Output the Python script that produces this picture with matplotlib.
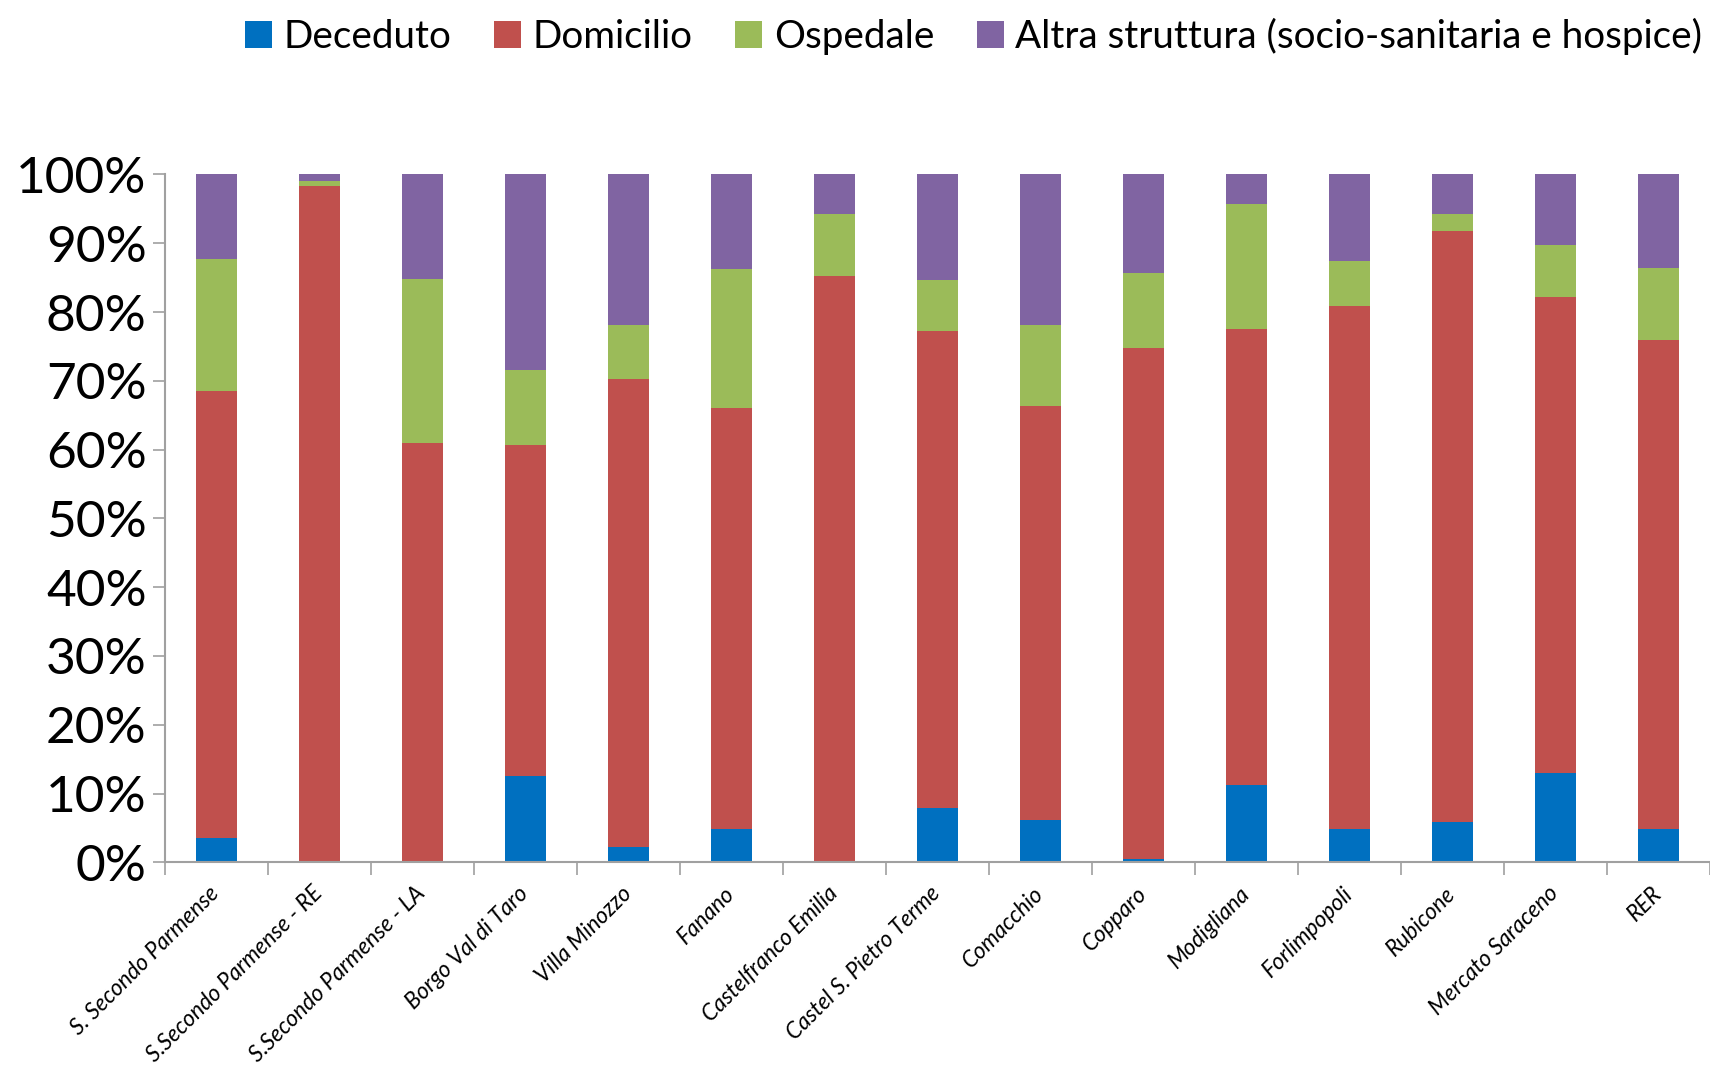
import numpy as np
import matplotlib
matplotlib.use('Agg')
import matplotlib.pyplot as plt
from matplotlib.ticker import PercentFormatter

plt.rcParams['font.family'] = ['Lato', 'DejaVu Sans']

# Categorie e quote percentuali per esito
categorie = ['S. Secondo Parmense', 'S.Secondo Parmense - RE', 'S.Secondo Parmense - LA',
             'Borgo Val di Taro', 'Villa Minozzo', 'Fanano', 'Castelfranco Emilia',
             'Castel S. Pietro Terme', 'Comacchio', 'Copparo', 'Modigliana',
             'Forlimpopoli', 'Rubicone', 'Mercato Saraceno', 'RER']
deceduto = [3.6, 0.0, 0.0, 12.5, 2.2, 4.8, 0.0, 7.9, 6.2, 0.5, 11.3, 4.8, 5.9, 13.0, 4.9]
domicilio = [64.9, 98.3, 61.0, 48.2, 68.0, 61.3, 85.3, 69.3, 60.2, 74.3, 66.3, 76.1, 85.9, 69.2, 71.0]
ospedale = [19.2, 0.8, 23.8, 10.9, 7.9, 20.2, 8.9, 7.4, 11.7, 10.9, 18.1, 6.5, 2.4, 7.6, 10.5]
altra = [12.3, 0.9, 15.2, 28.4, 21.9, 13.7, 5.8, 15.4, 21.9, 14.3, 4.3, 12.6, 5.8, 10.2, 13.6]

serie = ['Deceduto', 'Domicilio', 'Ospedale', 'Altra struttura (socio-sanitaria e hospice)']
colori = ['#0070C0', '#C0504D', '#9BBB59', '#8064A2']

fig = plt.figure(figsize=(17.1, 10.67), dpi=100)
ax = fig.add_axes([0.0963, 0.1918, 0.9037, 0.6447])

x = np.arange(len(categorie))
bottom = np.zeros(len(categorie))
for nome, valori, col in zip(serie, [deceduto, domicilio, ospedale, altra], colori):
    v = np.array(valori) / 100
    ax.bar(x, v, width=0.4, bottom=bottom, color=col, label=nome)
    bottom += v

ax.set_xlim(-0.5, len(categorie) - 0.5)
ax.set_ylim(0, 1)
ax.set_yticks(np.arange(0, 1.01, 0.1))
ax.yaxis.set_major_formatter(PercentFormatter(1.0, decimals=0))
ax.tick_params(axis='y', labelsize=37, length=9, width=1.2, color='#A0A0A0', pad=4)

ax.set_xticks(x)
ax.set_xticklabels(categorie, rotation=45, ha='right', va='center',
                   rotation_mode='anchor', style='italic', fontsize=16.3)
ax.set_xticks(np.arange(-0.5, len(categorie), 1), minor=True)
ax.tick_params(axis='x', which='major', length=0, pad=20)
ax.tick_params(axis='x', which='minor', length=9, width=1.2, color='#A0A0A0')

for s in ['top', 'right']:
    ax.spines[s].set_visible(False)
for s in ['left', 'bottom']:
    ax.spines[s].set_color('#A0A0A0')
    ax.spines[s].set_linewidth(1.5)

fig.legend(loc='upper right', bbox_to_anchor=(1.009, 1.005), ncol=4, frameon=False,
           fontsize=27.8, handlelength=0.7, handleheight=0.7, handletextpad=0.3,
           columnspacing=1.1, borderaxespad=0.2)

fig.savefig('out.png', dpi=100)
